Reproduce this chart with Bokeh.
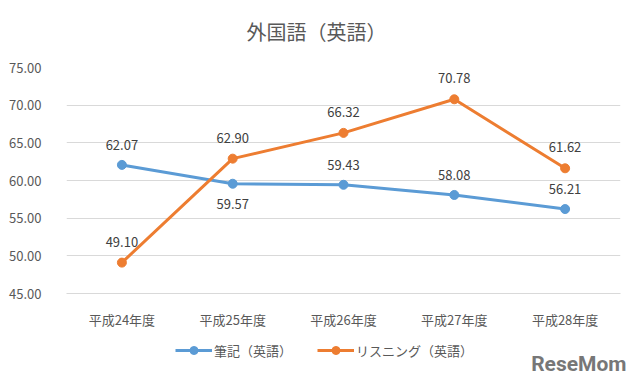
from bokeh.plotting import figure
from bokeh.layouts import column
from bokeh.models import (ColumnDataSource, FactorRange, Range1d, FixedTicker, PrintfTickFormatter,
                          LabelSet, Legend, LegendItem, Label)
from bokeh.core.properties import value
from bokeh.embed import file_html
from bokeh.resources import INLINE

categories = ["平成24年度", "平成25年度", "平成26年度", "平成27年度", "平成28年度"]
written = [62.07, 59.57, 59.43, 58.08, 56.21]
listening = [49.10, 62.90, 66.32, 70.78, 61.62]
y_ticks = [45, 50, 55, 60, 65, 70, 75]
series_names = ["筆記（英語）", "リスニング（英語）"]
title_text = "外国語（英語）"
watermark = "ReseMom"

BLUE = "#5B9BD5"
ORANGE = "#ED7D31"
TXT = "#595959"
FONT = "Noto Sans CJK JP"


def bare(fig):
    fig.axis.visible = False
    fig.grid.visible = False
    fig.outline_line_color = None


# title strip
t = figure(width=640, height=50, x_range=Range1d(0, 1), y_range=Range1d(0, 1),
           output_backend="svg", toolbar_location=None,
           min_border_left=0, min_border_right=0, min_border_top=0, min_border_bottom=0)
bare(t)
t.add_layout(Label(x=316, y=19, x_units="screen", y_units="screen", text=title_text,
                   text_align="center", text_baseline="middle", text_font=FONT,
                   text_font_size="20px", text_color=TXT))

# main chart
p = figure(width=640, height=281, x_range=FactorRange(*categories), y_range=Range1d(45, 75),
           output_backend="svg", toolbar_location=None,
           min_border_left=66, min_border_right=20, min_border_top=17, min_border_bottom=37)
p.outline_line_color = None

p.yaxis.ticker = FixedTicker(ticks=y_ticks)
p.yaxis.formatter = PrintfTickFormatter(format="%.2f")
p.yaxis.axis_line_color = None
p.yaxis.major_tick_line_color = None
p.yaxis.minor_tick_line_color = None
p.yaxis.major_label_text_font = FONT
p.yaxis.major_label_text_font_size = "13px"
p.yaxis.major_label_text_color = TXT
p.yaxis.major_label_standoff = 19

p.xaxis.axis_line_color = "#d9d9d9"
p.xaxis.major_tick_line_color = None
p.xaxis.minor_tick_line_color = None
p.xaxis.major_label_text_font = FONT
p.xaxis.major_label_text_font_size = "13px"
p.xaxis.major_label_text_color = TXT
p.xaxis.major_label_standoff = 10

p.xgrid.grid_line_color = None
p.ygrid.ticker = FixedTicker(ticks=y_ticks)
p.ygrid.grid_line_color = "#d9d9d9"

src_w = ColumnDataSource(dict(x=categories, y=written))
src_l = ColumnDataSource(dict(x=categories, y=listening))

p.line("x", "y", source=src_w, line_color=BLUE, line_width=3)
p.scatter("x", "y", source=src_w, size=9, fill_color=BLUE, line_color=BLUE)
p.line("x", "y", source=src_l, line_color=ORANGE, line_width=3)
p.scatter("x", "y", source=src_l, size=9, fill_color=ORANGE, line_color=ORANGE)


def sub(idx, vals):
    return ColumnDataSource(dict(x=[categories[i] for i in idx], y=[vals[i] for i in idx],
                                 t=[f"{vals[i]:.2f}" for i in idx]))


all_idx = list(range(len(categories)))
above_w = [i for i in all_idx if i != 1]
below_w = [1]
for src, off in ((sub(above_w, written), 20), (sub(below_w, written), -20),
                 (sub(all_idx, listening), 21)):
    p.add_layout(LabelSet(x="x", y="y", text="t", source=src, y_offset=off,
                          text_align="center", text_baseline="middle",
                          text_font=value(FONT), text_font_size=value("13px"),
                          text_color="#404040"))

# legend strip below the chart
q = figure(width=640, height=47, x_range=FactorRange(*categories), y_range=Range1d(45, 75),
           output_backend="svg", toolbar_location=None,
           min_border_left=0, min_border_right=0, min_border_top=0, min_border_bottom=0)
bare(q)
for fig in (t, p, q):
    if "frame_align" in fig.properties():
        fig.frame_align = False

qlw = q.line("x", "y", source=src_w, line_color=BLUE, line_width=3, visible=False)
qsw = q.scatter("x", "y", source=src_w, size=9, fill_color=BLUE, line_color=BLUE, visible=False)
qll = q.line("x", "y", source=src_l, line_color=ORANGE, line_width=3, visible=False)
qsl = q.scatter("x", "y", source=src_l, size=9, fill_color=ORANGE, line_color=ORANGE, visible=False)

legend = Legend(items=[LegendItem(label=series_names[0], renderers=[qlw, qsw]),
                       LegendItem(label=series_names[1], renderers=[qll, qsl])],
                orientation="horizontal", location=(175, 18),
                label_text_font=FONT, label_text_font_size="13px", label_text_color=TXT,
                glyph_width=37, glyph_height=20, label_standoff=2, label_height=20,
                spacing=25, border_line_color=None, background_fill_alpha=0,
                inactive_fill_alpha=0, margin=0, padding=0)
q.add_layout(legend, "center")

q.add_layout(Label(x=626, y=15, x_units="screen", y_units="screen", text=watermark,
                   text_align="right", text_baseline="alphabetic", text_font="Roboto",
                   text_font_size="21px", text_font_style="bold", text_color="#777777"))

layout = column(t, p, q, spacing=0)
open("out.html", "w").write(file_html(layout, INLINE))
